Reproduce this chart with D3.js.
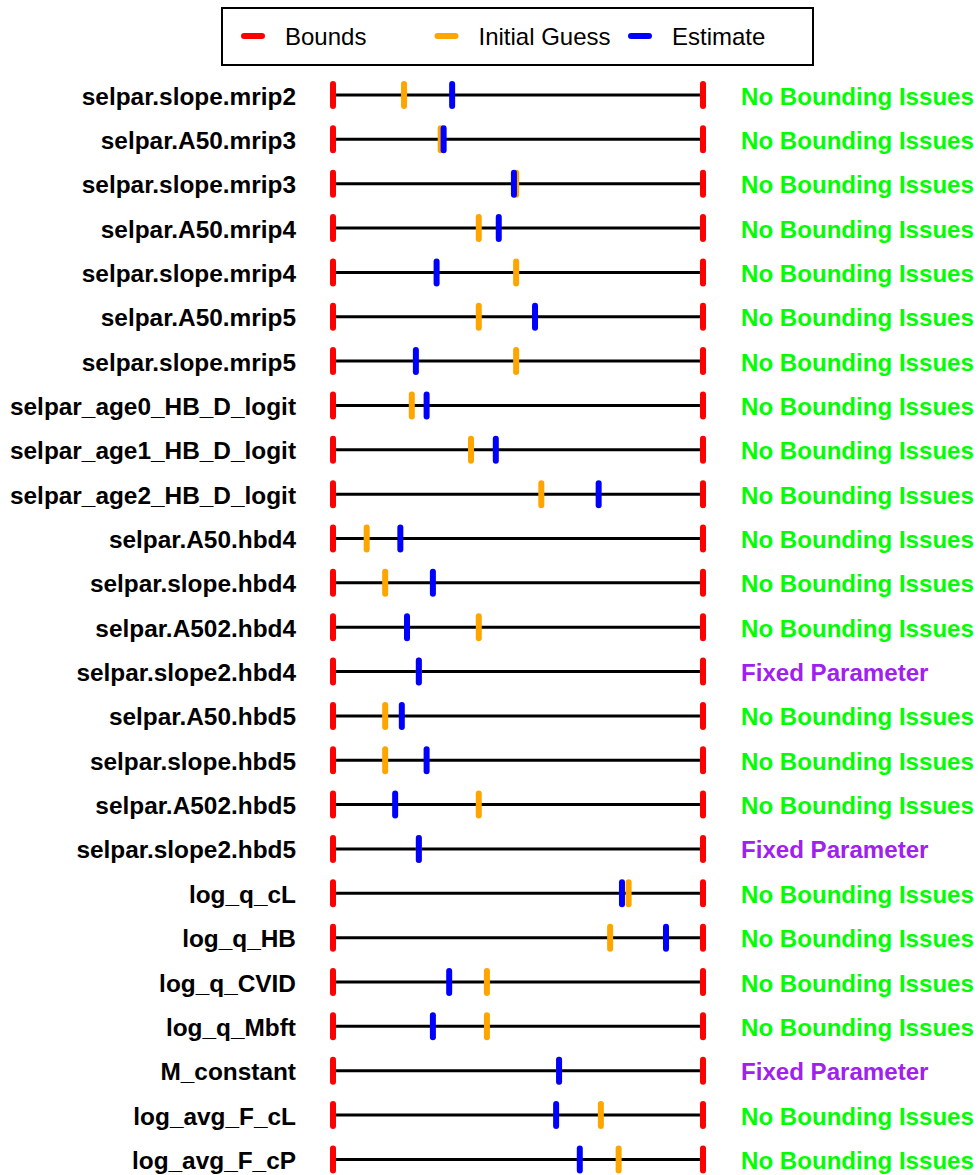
<!DOCTYPE html>
<html>
<head>
<meta charset="utf-8">
<script src="https://cdn.jsdelivr.net/npm/d3@7"></script>
<style>
  html, body { margin: 0; padding: 0; background: #fff; }
  svg { display: block; }
  text { font-family: "Liberation Sans", Arial, Helvetica, sans-serif; }
</style>
</head>
<body>
<svg id="chart" width="980" height="1175"></svg>
<script>
// Parameter names, top to bottom
const params = [
  "selpar.slope.mrip2", "selpar.A50.mrip3", "selpar.slope.mrip3", "selpar.A50.mrip4",
  "selpar.slope.mrip4", "selpar.A50.mrip5", "selpar.slope.mrip5", "selpar_age0_HB_D_logit",
  "selpar_age1_HB_D_logit", "selpar_age2_HB_D_logit", "selpar.A50.hbd4", "selpar.slope.hbd4",
  "selpar.A502.hbd4", "selpar.slope2.hbd4", "selpar.A50.hbd5", "selpar.slope.hbd5",
  "selpar.A502.hbd5", "selpar.slope2.hbd5", "log_q_cL", "log_q_HB",
  "log_q_CVID", "log_q_Mbft", "M_constant", "log_avg_F_cL", "log_avg_F_cP"
];

// Values expressed as relative position between the lower (0) and upper (1) bound
const lowerBound = params.map(() => 0);
const upperBound = params.map(() => 1);

const initialGuess = [
  0.192, 0.291, 0.495, 0.394, 0.495, 0.394, 0.495, 0.213,
  0.373, 0.563, 0.091, 0.141, 0.394, 0.232, 0.141, 0.141,
  0.394, 0.232, 0.799, 0.749, 0.416, 0.416, 0.611, 0.724, 0.772
];

const estimate = [
  0.322, 0.299, 0.489, 0.448, 0.280, 0.546, 0.224, 0.253,
  0.440, 0.718, 0.182, 0.270, 0.200, 0.232, 0.186, 0.253,
  0.168, 0.232, 0.781, 0.900, 0.314, 0.270, 0.611, 0.603, 0.667
];

const status = [
  "No Bounding Issues", "No Bounding Issues", "No Bounding Issues", "No Bounding Issues",
  "No Bounding Issues", "No Bounding Issues", "No Bounding Issues", "No Bounding Issues",
  "No Bounding Issues", "No Bounding Issues", "No Bounding Issues", "No Bounding Issues",
  "No Bounding Issues", "Fixed Parameter", "No Bounding Issues", "No Bounding Issues",
  "No Bounding Issues", "Fixed Parameter", "No Bounding Issues", "No Bounding Issues",
  "No Bounding Issues", "No Bounding Issues", "Fixed Parameter", "No Bounding Issues",
  "No Bounding Issues"
];

const legendLabels = ["Bounds", "Initial Guess", "Estimate"];
const legendColors = ["#FF0000", "#FFA500", "#0000FF"];
const statusColors = { "No Bounding Issues": "#00FF00", "Fixed Parameter": "#A020F0" };

const rows = params.map((p, i) => ({
  name: p, lo: lowerBound[i], hi: upperBound[i],
  init: initialGuess[i], est: estimate[i], status: status[i]
}));

const svg = d3.select("#chart");

const x = d3.scaleLinear().domain([0, 1]).range([333, 703]);
const y = d3.scalePoint().domain(params).range([95, 1159.4]);

const tickHalf = 11;
const tickWidth = 6;

const row = svg.append("g").selectAll("g")
  .data(rows).join("g")
  .attr("transform", d => `translate(0,${y(d.name)})`);

// Parameter names
row.append("text")
  .attr("x", 296).attr("y", 9.5)
  .attr("text-anchor", "end")
  .attr("font-size", 24.4).attr("font-weight", "bold")
  .attr("fill", "#000")
  .text(d => d.name);

// Range line between bounds
row.append("line")
  .attr("x1", d => x(d.lo)).attr("x2", d => x(d.hi))
  .attr("y1", 0).attr("y2", 0)
  .attr("stroke", "#000").attr("stroke-width", 3);

function tick(sel, accessor, color) {
  sel.append("line")
    .attr("x1", accessor).attr("x2", accessor)
    .attr("y1", -tickHalf).attr("y2", tickHalf)
    .attr("stroke", color).attr("stroke-width", tickWidth)
    .attr("stroke-linecap", "round");
}

tick(row, d => x(d.lo), legendColors[0]);
tick(row, d => x(d.hi), legendColors[0]);
tick(row, d => x(d.init), legendColors[1]);
tick(row, d => x(d.est), legendColors[2]);

// Status text
row.append("text")
  .attr("x", 741).attr("y", 9.5)
  .attr("font-size", 24.1).attr("font-weight", "bold")
  .attr("fill", d => statusColors[d.status])
  .text(d => d.status);

// Legend
const legend = svg.append("g");
legend.append("rect")
  .attr("x", 222).attr("y", 8).attr("width", 591).attr("height", 57)
  .attr("fill", "#fff").attr("stroke", "#000").attr("stroke-width", 2);

const lx = d3.scalePoint().domain(legendLabels).range([244, 631]);
const item = legend.selectAll("g.item")
  .data(legendLabels).join("g")
  .attr("class", "item")
  .attr("transform", d => `translate(${lx(d)},36)`);

item.append("line")
  .attr("x1", 0).attr("x2", 18).attr("y1", 0).attr("y2", 0)
  .attr("stroke", (d, i) => legendColors[i])
  .attr("stroke-width", 6).attr("stroke-linecap", "round");

item.append("text")
  .attr("x", 41).attr("y", 9)
  .attr("font-size", 24)
  .attr("fill", "#000")
  .text(d => d);
</script>
</body>
</html>
